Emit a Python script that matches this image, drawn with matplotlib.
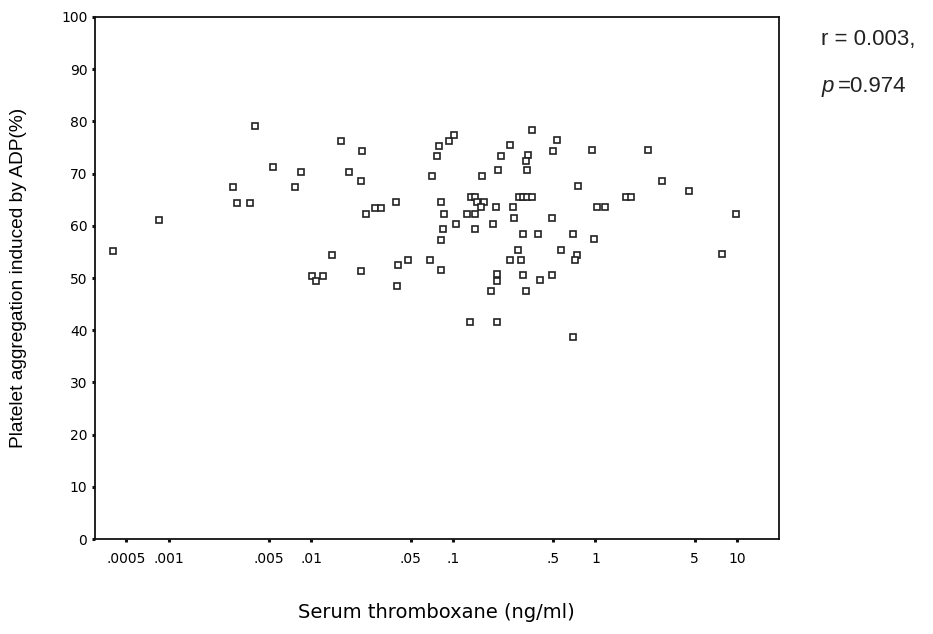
import numpy as np
import matplotlib
matplotlib.use("Agg")
import matplotlib.pyplot as plt

# serum thromboxane (ng/ml) vs platelet aggregation (%)
txb2 = [0.0004, 0.00084, 0.0040, 0.0028, 0.0030, 0.0037, 0.0054, 0.0085, 0.0077,
        0.0139, 0.0101, 0.0121, 0.0108, 0.0161, 0.0228, 0.0184, 0.0222, 0.0392,
        0.0280, 0.0307, 0.0243, 0.0223, 0.0405, 0.0479, 0.0402, 0.069, 0.082,
        0.071, 0.0765, 0.0787, 0.0934, 0.1014, 0.0816, 0.0861, 0.0844, 0.082,
        0.1047, 0.124, 0.1425, 0.1334, 0.1425, 0.1465, 0.165, 0.1554, 0.1425,
        0.19, 0.1596, 0.132, 0.2015, 0.200, 0.2047, 0.217, 0.250, 0.357, 0.333,
        0.322, 0.328, 0.533, 0.505, 0.75, 0.29, 0.31, 0.33, 0.36, 0.264, 0.266,
        0.497, 0.307, 0.394, 0.695, 0.283, 0.251, 0.297, 0.569, 0.738, 0.717,
        0.2015, 0.2015, 0.307, 0.4045, 0.494, 0.1846, 0.326, 0.698, 0.944, 2.34,
        2.95, 4.53, 1.63, 1.78, 1.03, 1.167, 9.76, 0.976, 7.78]
aggr = [55.2, 61.1, 79.2, 67.4, 64.4, 64.4, 71.3, 70.4, 67.4,
        54.4, 50.4, 50.4, 49.4, 76.2, 74.3, 70.4, 68.5, 64.6,
        63.5, 63.5, 62.2, 51.4, 52.5, 53.4, 48.5, 53.4, 51.5,
        69.5, 73.4, 75.3, 76.3, 77.4, 64.6, 62.3, 59.3, 57.3,
        60.3, 62.3, 62.3, 65.5, 65.5, 64.6, 64.6, 63.6, 59.3,
        60.3, 69.5, 41.6, 41.6, 63.6, 70.6, 73.4, 75.4, 78.4, 73.5,
        72.4, 70.7, 76.4, 74.4, 67.6, 65.6, 65.6, 65.6, 65.6, 63.6, 61.4,
        61.4, 58.4, 58.4, 58.4, 55.4, 53.5, 53.5, 55.4, 54.5, 53.5,
        50.8, 49.5, 50.6, 49.6, 50.6, 47.6, 47.6, 38.7, 74.5, 74.5,
        68.6, 66.7, 65.6, 65.6, 63.6, 63.6, 62.3, 57.5, 54.6]

xticks = [0.0005, 0.001, 0.005, 0.01, 0.05, 0.1, 0.5, 1, 5, 10]
xticklabels = [".0005", ".001", ".005", ".01", ".05", ".1", ".5", "1", "5", "10"]
yticks = [0, 10, 20, 30, 40, 50, 60, 70, 80, 90, 100]

fig = plt.figure(figsize=(9.33, 6.34), dpi=100)
ax = fig.add_axes([0.1018, 0.1498, 0.7328, 0.8234])

ax.plot(txb2, aggr, linestyle="none", marker="s", markersize=4.6,
        markerfacecolor="white", markeredgecolor="#222222", markeredgewidth=1.2)

ax.set_xscale("log")
ax.set_xlim(0.0003, 19.5)
ax.set_ylim(0, 100)
ax.set_xticks(xticks)
ax.set_xticklabels(xticklabels)
ax.xaxis.set_minor_locator(matplotlib.ticker.NullLocator())
ax.set_yticks(yticks)

for s in ax.spines.values():
    s.set_linewidth(1.3)
    s.set_color("#111111")
ax.tick_params(direction="out", length=2.5, width=2.2, color="#111111",
               labelsize=10, pad=3)
ax.tick_params(axis="x", pad=7)

ax.set_xlabel("Serum thromboxane (ng/ml)", fontsize=14, family="DejaVu Sans")
ax.xaxis.set_label_coords(0.5, -0.123)
ax.set_ylabel("Platelet aggregation induced by ADP(%)", fontsize=13.8,
              family="Liberation Sans")
ax.yaxis.set_label_coords(-0.100, 0.5)

# correlation stats to the right of the plot
fig.text(821 / 933, 1 - 45 / 634, "r = 0.003,", fontsize=16,
         family="Liberation Sans", color="#222222")
fig.text(822 / 933, 1 - 92 / 634, "p", fontsize=16, style="italic",
         family="Liberation Sans", color="#222222")
fig.text(838 / 933, 1 - 92 / 634, "=0.974", fontsize=16,
         family="Liberation Sans", color="#222222")

fig.savefig("out.png", dpi=100, facecolor="white")
